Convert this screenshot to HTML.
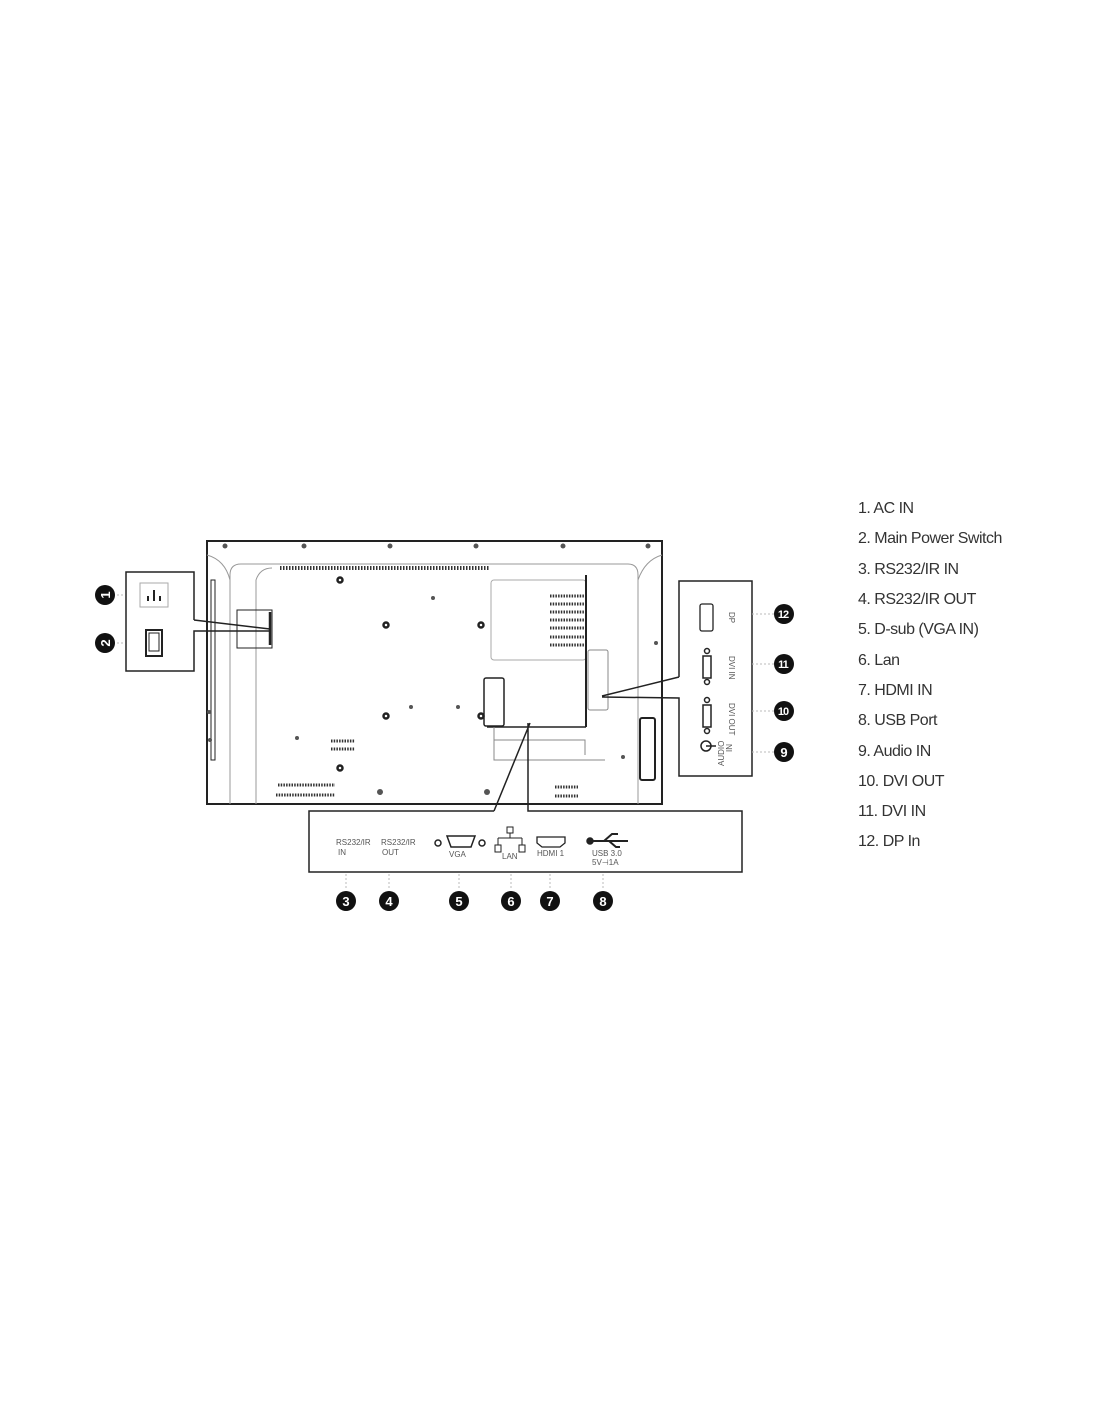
<!DOCTYPE html>
<html><head><meta charset="utf-8"><style>
html,body{margin:0;padding:0;background:#fff;}
body{width:1100px;height:1422px;position:relative;overflow:hidden;font-family:"Liberation Sans",sans-serif;}
.leg{position:absolute;left:858px;font-size:16px;color:#333;letter-spacing:-0.5px;}
</style></head><body>
<svg width="1100" height="1422" style="position:absolute;left:0;top:0" xmlns="http://www.w3.org/2000/svg">
<g fill="none" stroke="#222" stroke-width="1.5">
<rect x="207" y="541" width="455" height="263" stroke-width="2"/>
<path d="M230 804 V575 Q230 564 241 564 H628 Q638 564 638 575 V804" stroke="#999" stroke-width="1"/>
<path d="M256 804 V580 Q260 568 272 568" stroke="#999" stroke-width="1"/>
<path d="M207 555 Q225 560 230 580 M662 555 Q645 560 638 580" stroke="#999" stroke-width="1"/>
<rect x="211" y="580" width="4" height="180" stroke-width="1"/>
<line x1="280" y1="568" x2="490" y2="568" stroke="#333" stroke-width="4" stroke-dasharray="1.5 1.5"/>
<rect x="491" y="580" width="95" height="80" rx="3" stroke="#aaa" stroke-width="1"/>
<line x1="586" y1="575" x2="586" y2="727" stroke-width="2"/>
<line x1="487" y1="727" x2="586" y2="727" stroke-width="1.5"/>
<rect x="484" y="678" width="20" height="48" rx="2" stroke-width="1.5"/>
<path d="M494 727 V760 H605 M494 740 H585 V755" stroke="#888" stroke-width="1"/>
<rect x="588" y="650" width="20" height="60" rx="2" stroke="#888" stroke-width="1"/>
<rect x="640" y="718" width="15" height="62" rx="2" stroke-width="2"/>
<rect x="237" y="610" width="35" height="38" stroke-width="1"/>
<line x1="270" y1="612" x2="270" y2="645" stroke-width="2.5"/>
<g stroke="#333" stroke-width="3" stroke-dasharray="1.5 1.2">
<line x1="550" y1="596" x2="585" y2="596"/><line x1="550" y1="604" x2="585" y2="604"/><line x1="550" y1="612" x2="585" y2="612"/><line x1="550" y1="620" x2="585" y2="620"/><line x1="550" y1="628" x2="585" y2="628"/><line x1="550" y1="637" x2="585" y2="637"/><line x1="550" y1="645" x2="585" y2="645"/>
<line x1="278" y1="785" x2="335" y2="785"/><line x1="276" y1="795" x2="335" y2="795"/>
<line x1="331" y1="741" x2="355" y2="741"/><line x1="331" y1="749" x2="355" y2="749"/>
<line x1="555" y1="787" x2="578" y2="787"/><line x1="555" y1="796" x2="578" y2="796"/>
</g>
<g stroke-width="2.5">
<circle cx="340" cy="580" r="2.5"/><circle cx="386" cy="625" r="2.5"/><circle cx="481" cy="625" r="2.5"/><circle cx="386" cy="716" r="2.5"/><circle cx="481" cy="716" r="2.5"/><circle cx="340" cy="768" r="2.5"/>
</g>
<g fill="#555" stroke="none">
<circle cx="225" cy="546" r="2.5"/><circle cx="304" cy="546" r="2.5"/><circle cx="390" cy="546" r="2.5"/><circle cx="476" cy="546" r="2.5"/><circle cx="563" cy="546" r="2.5"/><circle cx="648" cy="546" r="2.5"/>
<circle cx="433" cy="598" r="2"/><circle cx="411" cy="707" r="2"/><circle cx="458" cy="707" r="2"/><circle cx="297" cy="738" r="2"/><circle cx="380" cy="792" r="3"/><circle cx="487" cy="792" r="3"/><circle cx="210" cy="740" r="2"/><circle cx="209" cy="712" r="2"/><circle cx="656" cy="643" r="2"/><circle cx="623" cy="757" r="2"/>
</g>
<path d="M194 620 V572 H126 V671 H194 V631 L270 631 M194 620 L270 629" stroke-width="1.5"/>
<rect x="140" y="583" width="28" height="24" stroke="#aaa" stroke-width="1"/>
<path d="M148 601 V596 M154 601 V590 M160 601 V596" stroke-width="2"/>
<rect x="146" y="630" width="16" height="26" stroke-width="2"/>
<rect x="149" y="633" width="10" height="18" stroke-width="1"/>
<path d="M679 677 V581 H752 V776 H679 V698 L602 697 M679 677 L602 696" stroke-width="1.5"/>
<rect x="700" y="604" width="13" height="27" rx="2" stroke-width="1.3"/>
<rect x="703" y="656" width="8" height="22" stroke-width="1.5"/>
<rect x="703" y="705" width="8" height="22" stroke-width="1.5"/>
<circle cx="707" cy="651" r="2.5"/><circle cx="707" cy="682" r="2.5"/><circle cx="707" cy="700" r="2.5"/><circle cx="707" cy="731" r="2.5"/>
<circle cx="706" cy="746" r="5"/><line x1="706" y1="746" x2="716" y2="746"/>
<path d="M494 811 H309 V872 H742 V811 H528 V723 M494 811 L530 723" stroke-width="1.5"/>
<path d="M447 836 H475 L471 847 H451 Z" stroke-width="1.5"/>
<circle cx="438" cy="843" r="3"/><circle cx="482" cy="843" r="3"/>
<rect x="507" y="827" width="6" height="6" stroke-width="1"/>
<path d="M510 833 V838 M498 838 H522 M498 838 V845 M522 838 V845" stroke-width="1"/>
<rect x="495" y="845" width="6" height="7" stroke-width="1"/><rect x="519" y="845" width="6" height="7" stroke-width="1"/>
<path d="M537 837 H565 V843 L560 847 H542 L537 843 Z" stroke-width="1.3"/>
<path d="M592 841 H628 M604 841 L612 834 H618 M609 841 L616 847 H620" stroke-width="2"/>
<circle cx="590" cy="841" r="3" fill="#222"/>
<g stroke="#bbb" stroke-width="1" stroke-dasharray="2 2">
<line x1="113" y1="595" x2="124" y2="595"/><line x1="113" y1="643" x2="124" y2="643"/>
<line x1="752" y1="614" x2="774" y2="614"/><line x1="752" y1="664" x2="774" y2="664"/><line x1="752" y1="711" x2="774" y2="711"/><line x1="752" y1="752" x2="774" y2="752"/>
<line x1="346" y1="874" x2="346" y2="890"/><line x1="389" y1="874" x2="389" y2="890"/><line x1="459" y1="874" x2="459" y2="890"/><line x1="511" y1="874" x2="511" y2="890"/><line x1="550" y1="874" x2="550" y2="890"/><line x1="603" y1="874" x2="603" y2="890"/>
</g>
</g>
<g font-family="Liberation Sans, sans-serif" font-size="8" fill="#555">
<text x="336" y="845">RS232/IR</text><text x="338" y="855">IN</text>
<text x="381" y="845">RS232/IR</text><text x="382" y="855">OUT</text>
<text x="449" y="857">VGA</text>
<text x="502" y="859">LAN</text>
<text x="537" y="856">HDMI 1</text>
<text x="592" y="856">USB 3.0</text><text x="592" y="865">5V⊣1A</text>
<text transform="translate(729,612) rotate(90)">DP</text>
<text transform="translate(729,656) rotate(90)">DVI IN</text>
<text transform="translate(729,703) rotate(90)">DVI OUT</text>
<text transform="translate(724,766) rotate(-90)">AUDIO</text>
<text transform="translate(732,752) rotate(-90)">IN</text>
</g>
<g font-family="Liberation Sans, sans-serif" font-size="13" font-weight="bold" text-anchor="middle" fill="#fff">
<g><circle cx="105" cy="595" r="10" fill="#111"/><text x="105" y="600" transform="rotate(-90 105 595)">1</text></g>
<g><circle cx="105" cy="643" r="10" fill="#111"/><text x="105" y="648" transform="rotate(-90 105 643)">2</text></g>
<g><circle cx="346" cy="901" r="10" fill="#111"/><text x="346" y="906">3</text></g>
<g><circle cx="389" cy="901" r="10" fill="#111"/><text x="389" y="906">4</text></g>
<g><circle cx="459" cy="901" r="10" fill="#111"/><text x="459" y="906">5</text></g>
<g><circle cx="511" cy="901" r="10" fill="#111"/><text x="511" y="906">6</text></g>
<g><circle cx="550" cy="901" r="10" fill="#111"/><text x="550" y="906">7</text></g>
<g><circle cx="603" cy="901" r="10" fill="#111"/><text x="603" y="906">8</text></g>
<g><circle cx="784" cy="752" r="10" fill="#111"/><text x="784" y="757">9</text></g>
<g font-size="11" letter-spacing="-1"><circle cx="784" cy="711" r="10" fill="#111"/><text x="783" y="715">10</text></g>
<g font-size="11" letter-spacing="-1"><circle cx="784" cy="664" r="10" fill="#111"/><text x="783" y="668">11</text></g>
<g font-size="11" letter-spacing="-1"><circle cx="784" cy="614" r="10" fill="#111"/><text x="783" y="618">12</text></g>
</g>
</svg>
<div class="leg" style="top:500px">1. AC IN</div>
<div class="leg" style="top:530px">2. Main Power Switch</div>
<div class="leg" style="top:561px">3. RS232/IR IN</div>
<div class="leg" style="top:591px">4. RS232/IR OUT</div>
<div class="leg" style="top:621px">5. D-sub (VGA IN)</div>
<div class="leg" style="top:652px">6. Lan</div>
<div class="leg" style="top:682px">7. HDMI IN</div>
<div class="leg" style="top:712px">8. USB Port</div>
<div class="leg" style="top:743px">9. Audio IN</div>
<div class="leg" style="top:773px">10. DVI OUT</div>
<div class="leg" style="top:803px">11. DVI IN</div>
<div class="leg" style="top:833px">12. DP In</div>
</body></html>
